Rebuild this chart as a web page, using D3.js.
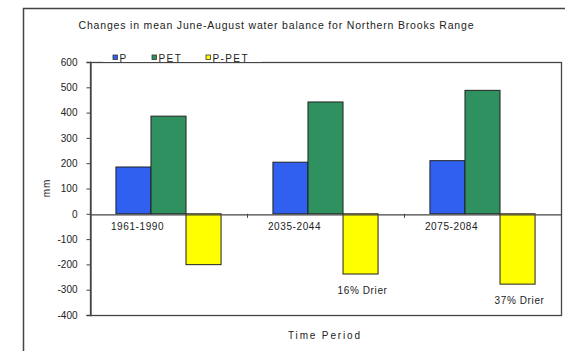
<!DOCTYPE html>
<html>
<head>
<meta charset="utf-8">
<script src="https://cdn.jsdelivr.net/npm/d3@7"></script>
<style>
  html, body { margin: 0; padding: 0; background: #fff; }
  svg { display: block; font-family: "Liberation Sans", Arial, sans-serif; }
</style>
</head>
<body>
<svg id="chart" width="565" height="351"></svg>
<script>
// Mean June-August water balance (mm), Northern Brooks Range
const periods = ["1961-1990", "2035-2044", "2075-2084"];
const seriesNames = ["P", "PET", "P-PET"];
const pValues = [185, 204, 210];
const petValues = [386, 442, 488];
const pMinusPetValues = [-201, -238, -278];
const yTicks = [600, 500, 400, 300, 200, 100, 0, -100, -200, -300, -400];
const annotations = ["", "16% Drier", "37% Drier"];
const seriesColors = ["#3060f0", "#2f9160", "#ffff00"];

const valuesBySeries = [pValues, petValues, pMinusPetValues];

const svg = d3.select("#chart");
const W = 565, H = 351;

// outer frame (runs off the right and bottom edges)
svg.append("rect")
  .attr("x", 23.5).attr("y", 8.5)
  .attr("width", W).attr("height", H)
  .attr("fill", "#fff").attr("stroke", "#444").attr("stroke-width", 1.5);

const plot = { left: 90, right: 561, top: 62, bottom: 315 };

const x0 = d3.scaleBand().domain(periods).range([plot.left, plot.right]).padding(0);
const x1 = d3.scaleBand().domain(seriesNames).range([0, x0.bandwidth()])
  .paddingInner(0).paddingOuter(0.74);
const y = d3.scaleLinear().domain([-400, 600]).range([plot.bottom, plot.top]);

// plot area border
svg.append("rect")
  .attr("x", plot.left + 0.5).attr("y", y(600) + 0.5)
  .attr("width", plot.right - plot.left).attr("height", y(-400) - y(600))
  .attr("fill", "none").attr("stroke", "#444").attr("stroke-width", 1.3);

// title
svg.append("text")
  .attr("x", 276).attr("y", 29)
  .attr("text-anchor", "middle")
  .attr("font-size", 10.5).attr("fill", "#222")
  .attr("textLength", 395).attr("lengthAdjust", "spacing")
  .text("Changes in mean June-August water balance for Northern Brooks Range");

// bars
const rows = periods.map((p, i) => ({ period: p, i }));
const groups = svg.append("g").selectAll("g").data(rows).join("g")
  .attr("transform", d => `translate(${x0(d.period)},0)`);
groups.selectAll("rect")
  .data(d => seriesNames.map((s, k) => ({ s, k, v: valuesBySeries[k][d.i] })))
  .join("rect")
  .attr("x", d => x1(d.s))
  .attr("width", x1.bandwidth())
  .attr("y", d => y(Math.max(0, d.v)))
  .attr("height", d => Math.abs(y(d.v) - y(0)))
  .attr("fill", d => seriesColors[d.k])
  .attr("stroke", "#222").attr("stroke-width", 1);

// y axis
const yAxis = d3.axisLeft(y).tickValues(yTicks).tickSize(4).tickPadding(9)
  .tickFormat(d => d < 0 ? "\u2011" + Math.abs(d) : d);
const gy = svg.append("g").attr("transform", `translate(${plot.left + 0.5},0)`).call(yAxis);
gy.select(".domain").attr("stroke", "#444").attr("stroke-width", 1.3);
gy.selectAll(".tick line").attr("stroke", "#444");
gy.selectAll(".tick text").attr("font-size", 10).attr("fill", "#222")
  .attr("font-family", "Liberation Sans, Arial, sans-serif");

// x axis along zero
const xAxis = d3.axisBottom(x0).tickSize(0).tickPadding(9);
const gx = svg.append("g").attr("transform", `translate(0,${y(0) + 0.5})`).call(xAxis);
gx.select(".domain").attr("stroke", "#444").attr("stroke-width", 1.3);
gx.selectAll(".tick text")
  .attr("dx", -31)
  .attr("font-size", 10).attr("letter-spacing", 0.6).attr("fill", "#222")
  .attr("font-family", "Liberation Sans, Arial, sans-serif");
// category boundary ticks
svg.append("g").selectAll("line").data(periods.slice(1)).join("line")
  .attr("x1", d => x0(d) + 0.5).attr("x2", d => x0(d) + 0.5)
  .attr("y1", y(0)).attr("y2", y(0) + 4)
  .attr("stroke", "#444");

// annotations under the P-PET bars
svg.append("g").selectAll("text")
  .data(rows.filter(d => annotations[d.i]))
  .join("text")
  .attr("x", d => x0(d.period) + x1("P-PET") + x1.bandwidth() / 2 + 2)
  .attr("y", d => y(pMinusPetValues[d.i]) + 20)
  .attr("text-anchor", "middle")
  .attr("font-size", 10).attr("letter-spacing", 0.6).attr("fill", "#222")
  .text(d => annotations[d.i]);

// axis titles
svg.append("text")
  .attr("transform", `translate(50,188) rotate(-90)`)
  .attr("text-anchor", "middle")
  .attr("font-size", 10).attr("letter-spacing", 1).attr("fill", "#222")
  .text("mm");
svg.append("text")
  .attr("x", 324).attr("y", 339)
  .attr("text-anchor", "middle")
  .attr("font-size", 10).attr("fill", "#222")
  .attr("textLength", 72).attr("lengthAdjust", "spacing")
  .text("Time Period");

// legend, sitting on the top border
const legend = svg.append("g");
legend.append("rect")
  .attr("x", 103).attr("y", 50).attr("width", 159).attr("height", 12)
  .attr("fill", "#fff");
const legendX = [113, 152, 206];
const items = legend.selectAll("g").data(seriesNames).join("g")
  .attr("transform", (d, k) => `translate(${legendX[k]},55)`);
items.append("rect")
  .attr("x", 0).attr("y", 0).attr("width", 4.5).attr("height", 4.5)
  .attr("fill", (d, k) => seriesColors[k]).attr("stroke", "#333").attr("stroke-width", 0.8);
items.append("text")
  .attr("x", 6.5).attr("y", 6.5)
  .attr("font-size", 10).attr("letter-spacing", 1.4).attr("fill", "#222")
  .text(d => d);
</script>
</body>
</html>
